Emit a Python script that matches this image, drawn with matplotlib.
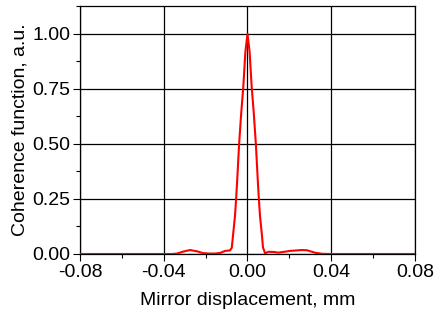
import matplotlib
matplotlib.use('Agg')
from matplotlib import pyplot as plt
from matplotlib.ticker import MultipleLocator

# mirror displacement (mm) and coherence function (a.u.)
displacement = [-0.08, -0.04, -0.036, -0.0337, -0.031, -0.0275, -0.024, -0.0213,
                -0.018, -0.0155, -0.013, -0.0107, -0.0084, -0.0075, -0.0068,
                -0.006, -0.0055, -0.005, -0.004, -0.003, -0.002, -0.001, 0.0,
                0.001, 0.002, 0.003, 0.004, 0.005, 0.0055, 0.006, 0.0068,
                0.0074, 0.0084, 0.010, 0.0131, 0.0146, 0.0175, 0.0203, 0.023,
                0.026, 0.0284, 0.0322, 0.0356, 0.04, 0.08]
coherence = [0.0, 0.0, 0.0, 0.002, 0.010, 0.018, 0.012, 0.004,
             0.002, 0.002, 0.005, 0.014, 0.016, 0.028, 0.095,
             0.17, 0.24, 0.32, 0.50, 0.64, 0.76, 0.92, 1.0,
             0.92, 0.76, 0.64, 0.50, 0.32, 0.24, 0.17, 0.095,
             0.03, 0.003, 0.010, 0.009, 0.006, 0.010, 0.014, 0.016,
             0.018, 0.017, 0.006, 0.001, 0.0, 0.0]

xticks = [-0.08, -0.04, 0.0, 0.04, 0.08]
yticks = [0.0, 0.25, 0.5, 0.75, 1.0]

plt.rcParams['font.family'] = ['Liberation Sans', 'DejaVu Sans']
plt.rcParams['font.size'] = 14

fig = plt.figure(figsize=(4.38, 3.11), dpi=100)
ax = fig.add_axes([0.1826, 0.1833, 0.7649, 0.7974])

ax.plot(displacement, coherence, color='red', linewidth=1.5, zorder=3)

ax.set_xlim(-0.08, 0.08)
ax.set_ylim(0, 1.127)
ax.set_xticks(xticks)
ax.set_xticklabels(['%.2f' % v for v in xticks])
ax.set_yticks(yticks)
ax.set_yticklabels(['%.2f' % v for v in yticks])
ax.xaxis.set_minor_locator(MultipleLocator(0.02))
ax.yaxis.set_minor_locator(MultipleLocator(0.125))
ax.tick_params(which='major', direction='out', length=5, width=0.8, pad=2)
ax.tick_params(which='minor', direction='out', length=3, width=0.8)
ax.grid(True, which='major', color='black', linewidth=0.9)
ax.set_axisbelow(True)
for s in ax.spines.values():
    s.set_linewidth(0.9)

ax.set_xlabel('Mirror displacement, mm', labelpad=8)
ax.set_ylabel('Coherence function, a.u.', labelpad=3)

fig.savefig('out.png', dpi=100)
